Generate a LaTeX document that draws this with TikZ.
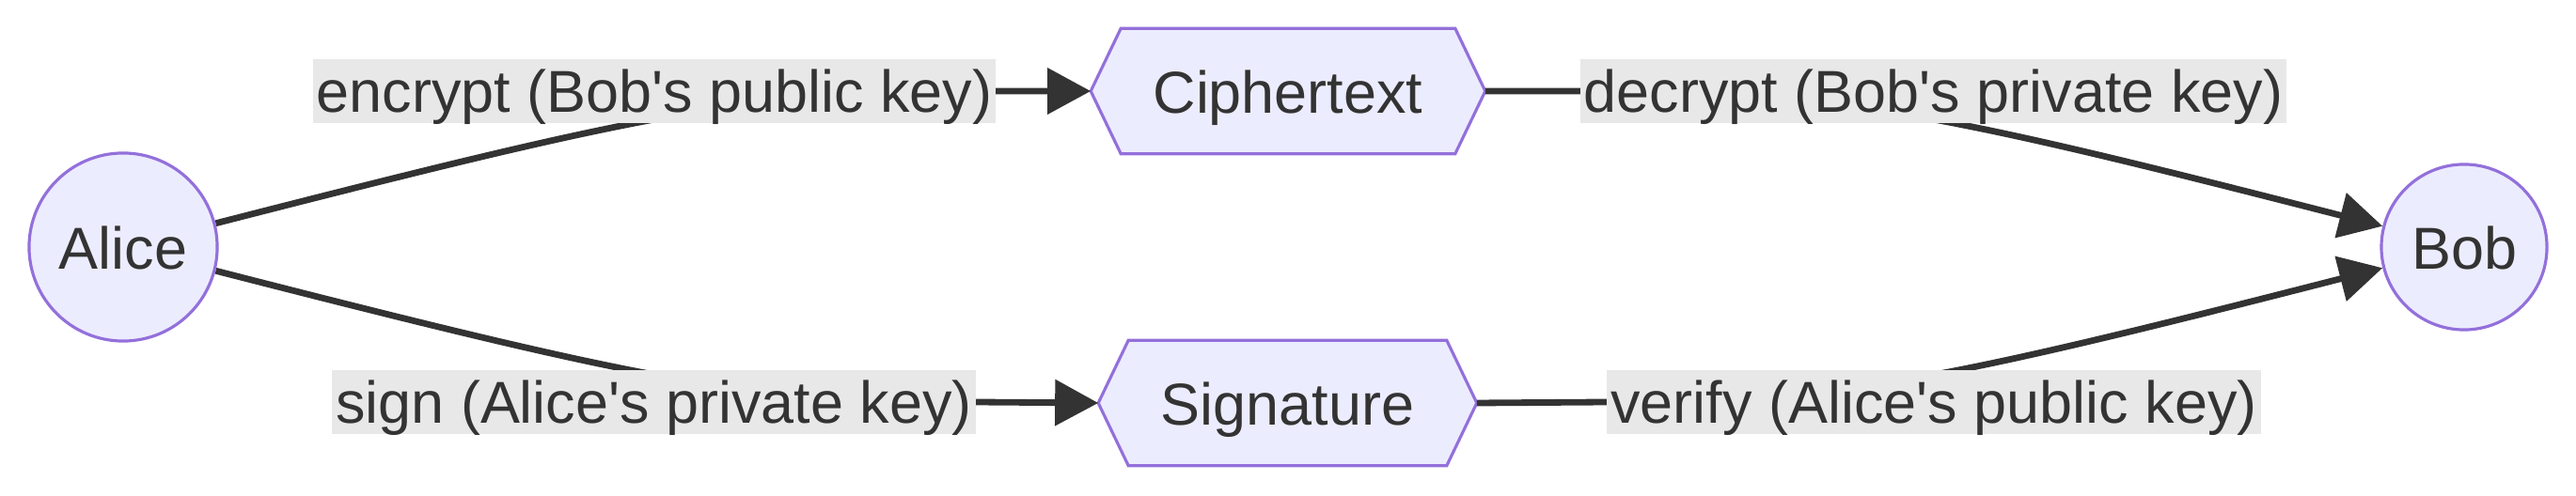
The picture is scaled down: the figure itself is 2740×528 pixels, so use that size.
\documentclass[tikz,border=0pt]{standalone}
\usepackage{fontspec}
\setmainfont{Liberation Sans}
\usetikzlibrary{arrows.meta, backgrounds}
\definecolor{cnode}{HTML}{ECECFF}
\definecolor{cline}{HTML}{9370DB}
\definecolor{cink}{HTML}{333333}
\definecolor{clabel}{HTML}{E8E8E8}

\begin{document}
\begin{tikzpicture}[x=0.01cm, y=-0.01cm, font=\fontsize{17.9}{21}\selectfont\color{cink}]
    \tikzset{
        party/.style={circle, draw=cline, fill=cnode, line width=0.9pt, inner sep=0pt, text height=0.46cm, text depth=0pt},
        msgbox/.style={rectangle, minimum height=1.32cm, inner sep=0pt, text height=0.46cm, text depth=0pt},
        keylabel/.style={rectangle, fill=clabel, inner xsep=0.04cm, inner ysep=0pt, text height=0.56cm, text depth=0.12cm},
        wire/.style={draw=cink, line width=0.068cm, -{Triangle[length=0.46cm, width=0.48cm]}}
    }
    \useasboundingbox (0,0) rectangle (2740,528);
    \node (alice) [party, minimum size=2cm] at (131,263) {Alice};
    \node (bob) [party, minimum size=1.76cm] at (2621,263) {Bob};
    \node (cipher) [msgbox, minimum width=4.18cm] at (1370,97) {Ciphertext};
    \node (sign) [msgbox, minimum width=4.01cm] at (1369.5,429) {Signature};
    % key labels sit on top of the wires
    \node (enclbl) [keylabel] at (696,97) {encrypt (Bob\textquotesingle s public key)};
    \node (declbl) [keylabel] at (2056.5,97) {decrypt (Bob\textquotesingle s private key)};
    \node (sgnlbl) [keylabel] at (695.5,428) {sign (Alice\textquotesingle s private key)};
    \node (vfylbl) [keylabel] at (2057,428) {verify (Alice\textquotesingle s public key)};
    \begin{scope}[on background layer]
        \foreach \n in {cipher, sign}
            \draw[cline, fill=cnode, line width=0.9pt] (\n.west) -- ([xshift=0.32cm]\n.north west) -- ([xshift=-0.32cm]\n.north east) -- (\n.east) -- ([xshift=-0.32cm]\n.south east) -- ([xshift=0.32cm]\n.south west) -- cycle;
        \draw[wire] (alice) .. controls (700,117) and (800,97) .. (enclbl.east) -- (cipher.west);
        \draw[wire] (cipher.east) -- (declbl.west) .. controls (1952,97) and (2052,117) .. (bob);
        \draw[wire] (alice) .. controls (700,409) and (800,428) .. (sgnlbl.east) -- (sign.west);
        \draw[wire] (sign.east) -- (vfylbl.west) .. controls (1952,428) and (2052,409) .. (bob);
    \end{scope}
\end{tikzpicture}
\end{document}
